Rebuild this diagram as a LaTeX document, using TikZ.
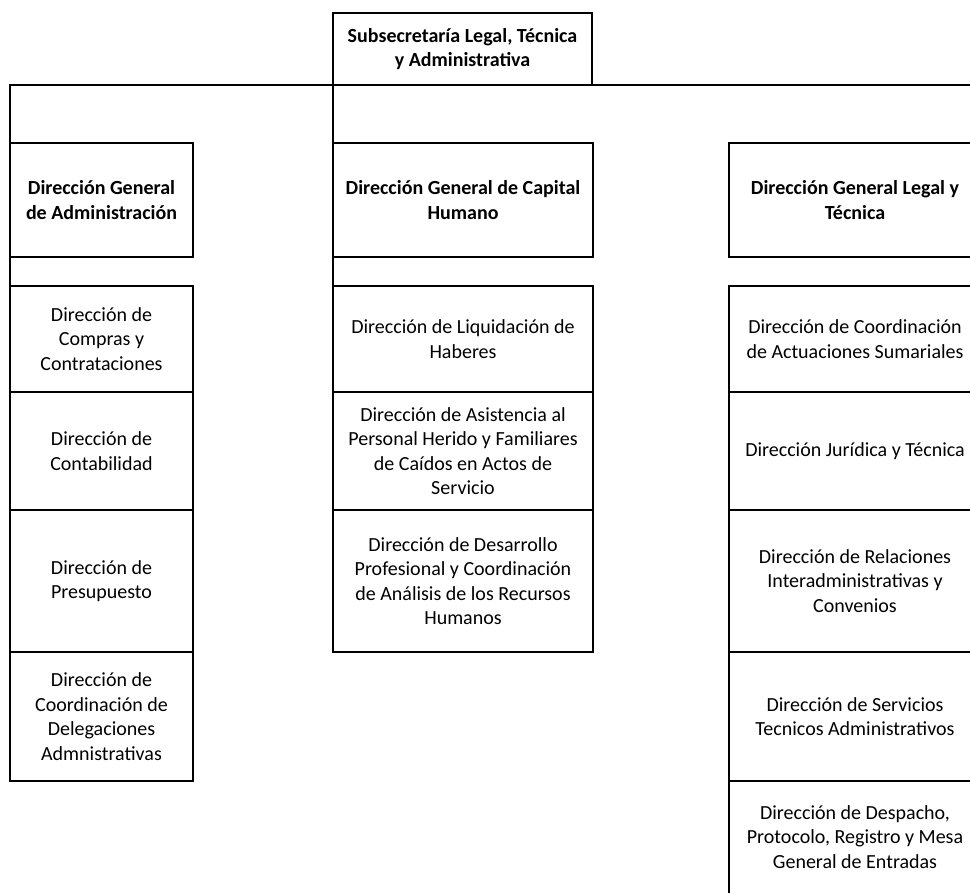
\documentclass[tikz,border=0pt]{standalone}
\usepackage{fontspec}
\setmainfont{Carlito}
\usetikzlibrary{positioning}

\tikzset{
  unit/.style={draw, line width=1.5pt, outer sep=0pt, inner sep=2pt, align=center,
    font=\fontsize{20pt}{24.5pt}\selectfont},
  head/.style={unit, font=\fontsize{20pt}{24.5pt}\selectfont\bfseries, minimum height=114pt},
  colL/.style={minimum width=183pt},
  colM/.style={minimum width=260pt},
  colR/.style={minimum width=252pt},
  rowA/.style={minimum height=106pt},
  rowB/.style={minimum height=118pt},
  rowC/.style={minimum height=142pt},
  rowD/.style={minimum height=129pt},
  rowE/.style={minimum height=130pt},
  link/.style={line width=1.5pt},
}

\begin{document}
\begin{tikzpicture}[x=1pt, y=-1pt]
  \useasboundingbox (0,0) rectangle (970,893);
  \clip (0,0) rectangle (970,893);

  \node[head, minimum width=259pt, minimum height=72pt] (sub) at (462.5,49) {Subsecretaría Legal, Técnica\\y Administrativa};

  \node[head, colL] (adm) at (101.5,200) {Dirección General\\de Administración};
  \node[head, colM] (cap) at (463,200)   {Dirección General de Capital\\Humano};
  \node[head, colR] (leg) at (855,200)   {Dirección General Legal y\\Técnica};

  \node[unit, colL, rowA, below=29pt of adm]    (compras) {Dirección de\\Compras y\\Contrataciones};
  \node[unit, colL, rowB, below=0pt of compras] (conta)   {Dirección de\\Contabilidad};
  \node[unit, colL, rowC, below=0pt of conta]   (presu)   {Dirección de\\Presupuesto};
  \node[unit, colL, rowD, below=0pt of presu]   (deleg)   {Dirección de\\Coordinación de\\Delegaciones\\Admnistrativas};

  \node[unit, colM, rowA, below=29pt of cap]    (liqui) {Dirección de Liquidación de\\Haberes};
  \node[unit, colM, rowB, below=0pt of liqui]   (asist) {Dirección de Asistencia al\\Personal Herido y Familiares\\de Caídos en Actos de\\Servicio};
  \node[unit, colM, rowC, below=0pt of asist]   (desa)  {Dirección de Desarrollo\\Profesional y Coordinación\\de Análisis de los Recursos\\Humanos};

  \node[unit, colR, rowA, below=29pt of leg]    (sumar) {Dirección de Coordinación\\de Actuaciones Sumariales};
  \node[unit, colR, rowB, below=0pt of sumar]   (jurid) {Dirección Jurídica y Técnica};
  \node[unit, colR, rowC, below=0pt of jurid]   (relac) {Dirección de Relaciones\\Interadministrativas y\\Convenios};
  \node[unit, colR, rowD, below=0pt of relac]   (servi) {Dirección de Servicios\\Tecnicos Administrativos};
  \node[unit, colR, rowE, below=0pt of servi, text depth=18pt] (despa) {Dirección de Despacho,\\Protocolo, Registro y Mesa\\General de Entradas};

  \coordinate (busend) at (970,85);
  \draw[link] (adm.north west) |- (busend);
  \draw[link] (sub.south west) -- (cap.north west);
  \draw[link] (adm.south west) -- (compras.north west);
  \draw[link] (cap.south west) -- (liqui.north west);

\end{tikzpicture}
\end{document}
